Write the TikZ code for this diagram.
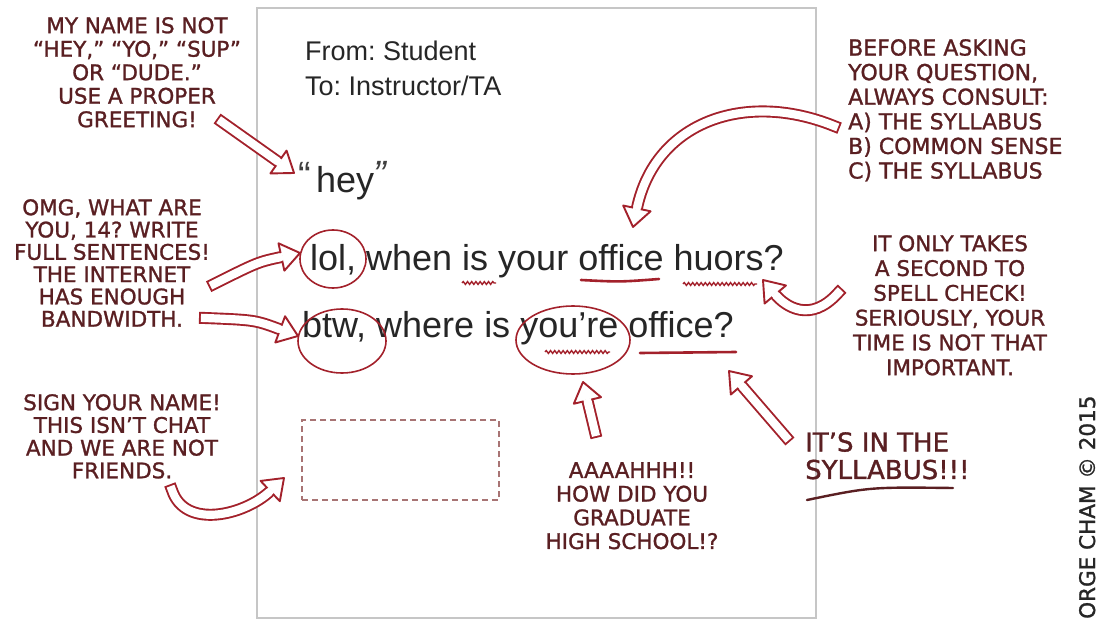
\documentclass[tikz,border=0pt]{standalone}
\usepackage{fontspec}
\setmainfont{Liberation Sans}
\newfontfamily\hand[FakeBold=1.2]{DejaVu Sans}
\usetikzlibrary{calc,decorations.pathmorphing}
\frenchspacing
\definecolor{ink}{HTML}{5A1F22}
\definecolor{pen}{HTML}{A3212B}
\definecolor{framegray}{HTML}{C6C6C6}
\definecolor{dashcol}{HTML}{A87474}
\newcommand{\ahead}[2]{%
  \path ($(#1)!19pt!(#2)$) coordinate (hb);
  \path ($(hb)!14pt!90:(#1)$) coordinate (hl) ($(hb)!14pt!-90:(#1)$) coordinate (hr)
        ($(hb)!3pt!(#2)$) coordinate (hi) ($(hb)!1.5pt!(#1)$) coordinate (ho);
  \draw[aout, fill=white] (#1) -- (hl) -- (hr) -- cycle;
  \draw[white, line width=7.6pt] (hi) -- (ho);
}
\tikzset{
  aout/.style={draw=pen, line width=1.9pt, line join=round},
  shaft/.style={draw=pen, line width=1.9pt, double=white, double distance=8.2pt, line cap=rect},
  note/.style={font=\hand\fontsize{21.5}{23.5}\selectfont, text=ink, inner sep=0pt, align=center, anchor=north},
  hdr/.style={font=\fontsize{27}{27}\selectfont, inner sep=0pt, anchor=base west, text=black!85},
  big/.style={font=\fontsize{36}{36}\selectfont, inner sep=0pt, anchor=base west, text=black!85},
  qmark/.style={font=\fontsize{38}{38}\selectfont, inner sep=0pt, anchor=base west, text=black!75},
  circ/.style={draw=pen, line width=1.6pt},
  uline/.style={draw=pen, line width=2.6pt, line cap=round},
  wavy/.style={draw=pen, line width=1.4pt, decorate, decoration={snake, amplitude=1.4pt, segment length=4.2pt}},
}
\begin{document}
\begin{tikzpicture}[x=1pt, y=-1pt]
\useasboundingbox (0,0) rectangle (1102,620);
\fill[white] (0,0) rectangle (1102,620);

% page frame
\node[draw=framegray, line width=2pt, minimum width=559pt, minimum height=610pt, inner sep=0pt] (page) at (536.5,313) {};

% email text
\node[hdr] (from) at (305,61) {From: Student};
\node[hdr] (to) at (305,96) {To: Instructor/TA};
\node[qmark] (lq) at (298,189) {“};
\node[big] (hey) at (316,193) {hey};
\node[qmark, font=\itshape\fontsize{38}{38}\selectfont] (rq) at (373,188) {”};
\node[big] (l1) at (310,270) {lol, when is your office huors?};
\node[big] (l2) at (302,337) {btw, where is you’re office?};

% signature box
\node[draw=dashcol, dashed, dash pattern=on 6pt off 4pt, line width=1.3pt, minimum width=197pt, minimum height=80pt, inner sep=0pt] (sig) at (400.5,460) {};

% corrections
\draw[circ] (333,259) ellipse [x radius=33pt, y radius=29pt];
\draw[circ] (342,341) ellipse [x radius=44pt, y radius=32pt];
\draw[circ] (573,340) ellipse [x radius=57pt, y radius=34pt];
\draw[wavy] (462,283) -- (496,283);
\draw[uline] (581,280) .. controls (620,282) .. (659,279);
\draw[wavy] (683,284) -- (757,284);
\draw[wavy] (545,352) -- (610,352);
\draw[uline] (640,353) -- (736,352);

% annotations
\node[note] (greet) at (137,17) {MY NAME IS NOT\\“HEY,” “YO,” “SUP”\\OR “DUDE.”\\USE A PROPER\\GREETING!};
\node[note, font=\hand\fontsize{21.5}{22.3}\selectfont] (omg) at (112,199) {OMG, WHAT ARE\\YOU, 14? WRITE\\FULL SENTENCES!\\THE INTERNET\\HAS ENOUGH\\BANDWIDTH.};
\node[note, font=\hand\fontsize{21.5}{22.7}\selectfont] (sign) at (122,394) {SIGN YOUR NAME!\\THIS ISN’T CHAT\\AND WE ARE NOT\\FRIENDS.};
\node[note, align=left, anchor=north west, font=\hand\fontsize{22}{24.6}\selectfont] (before) at (848,39) {BEFORE ASKING\\YOUR QUESTION,\\ALWAYS CONSULT:\\A) THE SYLLABUS\\B) COMMON SENSE\\C) THE SYLLABUS};
\node[note, font=\hand\fontsize{21.5}{24.8}\selectfont] (spell) at (950,235) {IT ONLY TAKES\\A SECOND TO\\SPELL CHECK!\\SERIOUSLY, YOUR\\TIME IS NOT THAT\\IMPORTANT.};
\node[note, font=\hand\fontsize{21.5}{23.7}\selectfont] (aaah) at (632,462) {AAAAHHH!!\\HOW DID YOU\\GRADUATE\\HIGH SCHOOL!?};
\node[note, align=left, anchor=north west, font=\hand\fontsize{26}{27.5}\selectfont] (syl) at (805,432) {IT’S IN THE\\SYLLABUS!!!};
\draw[draw=ink, line width=2.4pt, line cap=round] (807,500) .. controls (870,487) .. (953,488);

% copyright
\node[rotate=90, anchor=base west, inner sep=0pt, font=\hand\fontsize{21.5}{21.5}\selectfont, text=black!85] (cr) at (1095,619) {ORGE CHAM © 2015};

% arrows
\coordinate (a1t) at (222,122); \coordinate (a1h) at (294,173);
\draw[shaft] (a1t) -- ($(a1h)!19pt!(a1t)$); \ahead{a1h}{a1t}

\coordinate (a2t) at (214,284); \coordinate (a2c) at (258,262); \coordinate (a2h) at (300,253);
\draw[shaft] (a2t) .. controls (a2c) .. ($(a2h)!19pt!(a2c)$); \ahead{a2h}{a2c}

\coordinate (a3t) at (205,318); \coordinate (a3c) at (255,320); \coordinate (a3h) at (298,336);
\draw[shaft] (a3t) .. controls (a3c) .. ($(a3h)!19pt!(a3c)$); \ahead{a3h}{a3c}

\coordinate (a4t) at (172,490); \coordinate (a4c) at (185,530); \coordinate (a4d) at (245,515); \coordinate (a4h) at (284,478);
\draw[shaft] (a4t) .. controls (a4c) and (a4d) .. ($(a4h)!19pt!(a4d)$); \ahead{a4h}{a4d}

\coordinate (a5t) at (834,126); \coordinate (a5c) at (745,90); \coordinate (a5d) at (655,122); \coordinate (a5h) at (633,227);
\draw[shaft] (a5t) .. controls (a5c) and (a5d) .. ($(a5h)!19pt!(a5d)$); \ahead{a5h}{a5d}

\coordinate (a6t) at (838,293); \coordinate (a6c) at (810,324); \coordinate (a6d) at (785,306); \coordinate (a6h) at (763,280);
\draw[shaft] (a6t) .. controls (a6c) and (a6d) .. ($(a6h)!19pt!(a6d)$); \ahead{a6h}{a6d}

\coordinate (a7t) at (595,432); \coordinate (a7h) at (583,382);
\draw[shaft] (a7t) -- ($(a7h)!19pt!(a7t)$); \ahead{a7h}{a7t}

\coordinate (a8t) at (786,437); \coordinate (a8h) at (729,371);
\draw[shaft] (a8t) -- ($(a8h)!19pt!(a8t)$); \ahead{a8h}{a8t}
\end{tikzpicture}
\end{document}
